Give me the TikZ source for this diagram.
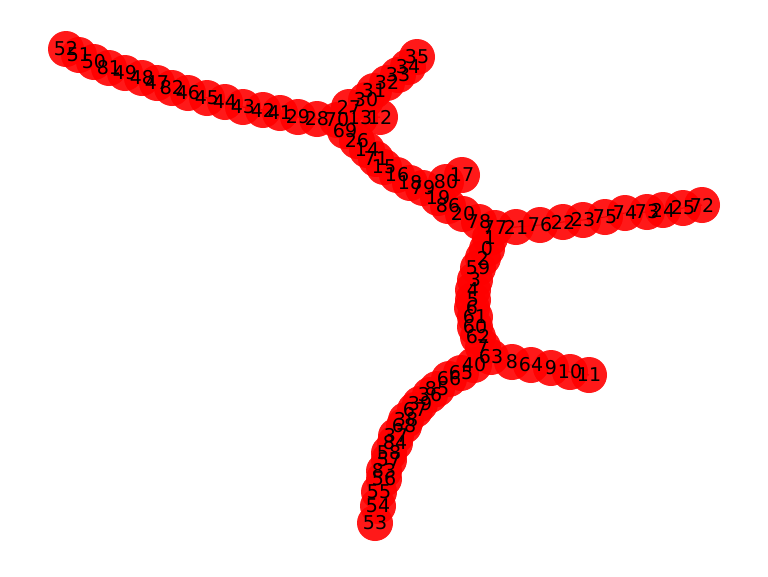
\documentclass[tikz,border=0pt]{standalone}
\usepackage{fontspec}
\setmainfont{DejaVu Sans}
\pgfdeclarelayer{edges}
\pgfdeclarelayer{discs}
\pgfsetlayers{edges,discs,main}

\begin{document}
\begin{tikzpicture}[x=1pt,y=-1pt,
  lbl/.style={inner sep=0pt,font=\fontsize{19}{19}\selectfont},
  disc/.style={fill=red,fill opacity=0.9},
  edge/.style={black,line width=1pt}]
\useasboundingbox (0,0) rectangle (768,576);
% upper left arm
\node[lbl] (n52) at (66,49) {52};
\node[lbl] (n51) at (79,55) {51};
\node[lbl] (n50) at (94,62) {50};
\node[lbl] (n81) at (109,68) {81};
\node[lbl] (n49) at (125,73) {49};
\node[lbl] (n48) at (142,78) {48};
\node[lbl] (n47) at (157,83) {47};
\node[lbl] (n82) at (172,88) {82};
\node[lbl] (n46) at (188,93) {46};
\node[lbl] (n45) at (207,98) {45};
\node[lbl] (n44) at (225,102) {44};
\node[lbl] (n43) at (243,107) {43};
\node[lbl] (n42) at (263,110) {42};
\node[lbl] (n41) at (280,113) {41};
\node[lbl] (n29) at (298,117) {29};
\node[lbl] (n28) at (317,119) {28};
\node[lbl] (n70) at (337,120) {70};
\node[lbl] (n13) at (360,118) {13};
\node[lbl] (n12) at (380,117) {12};
% short arm up
\node[lbl] (n27) at (349,107) {27};
\node[lbl] (n30) at (366,100) {30};
\node[lbl] (n31) at (374,91) {31};
\node[lbl] (n32) at (387,83) {32};
\node[lbl] (n33) at (398,75) {33};
\node[lbl] (n34) at (408,67) {34};
\node[lbl] (n35) at (417,57) {35};
% middle
\node[lbl] (n69) at (345,131) {69};
\node[lbl] (n26) at (357,141) {26};
\node[lbl] (n14) at (367,150) {14};
\node[lbl] (n71) at (376,159) {71};
\node[lbl] (n15) at (384,167) {15};
\node[lbl] (n16) at (397,175) {16};
\node[lbl] (n18) at (410,183) {18};
\node[lbl] (n79) at (423,188) {79};
\node[lbl] (n80) at (446,182) {80};
\node[lbl] (n17) at (462,175) {17};
\node[lbl] (n19) at (438,198) {19};
\node[lbl] (n86) at (448,206) {86};
\node[lbl] (n20) at (463,214) {20};
\node[lbl] (n78) at (479,222) {78};
\node[lbl] (n77) at (495,228) {77};
% right arm
\node[lbl] (n21) at (516,227) {21};
\node[lbl] (n76) at (540,225) {76};
\node[lbl] (n22) at (563,222) {22};
\node[lbl] (n23) at (583,220) {23};
\node[lbl] (n75) at (605,217) {75};
\node[lbl] (n74) at (625,213) {74};
\node[lbl] (n73) at (647,212) {73};
\node[lbl] (n24) at (663,210) {24};
\node[lbl] (n25) at (683,208) {25};
\node[lbl] (n72) at (702,205) {72};
% vertical arm
\node[lbl] (n1) at (490,238) {1};
\node[lbl] (n0) at (487,249) {0};
\node[lbl] (n2) at (483,258) {2};
\node[lbl] (n59) at (478,268) {59};
\node[lbl] (n3) at (475,280) {3};
\node[lbl] (n4) at (473,290) {4};
\node[lbl] (n5) at (473,300) {5};
\node[lbl] (n6) at (472,308) {6};
\node[lbl] (n61) at (475,317) {61};
\node[lbl] (n60) at (475,327) {60};
\node[lbl] (n62) at (478,337) {62};
\node[lbl] (n7) at (483,347) {7};
\node[lbl] (n63) at (491,357) {63};
% short arm right
\node[lbl] (n8) at (512,362) {8};
\node[lbl] (n64) at (531,365) {64};
\node[lbl] (n9) at (551,368) {9};
\node[lbl] (n10) at (570,372) {10};
\node[lbl] (n11) at (589,375) {11};
% lower arm
\node[lbl] (n40) at (474,365) {40};
\node[lbl] (n65) at (461,373) {65};
\node[lbl] (n66) at (449,379) {66};
\node[lbl] (n85) at (437,389) {85};
\node[lbl] (n36) at (430,395) {36};
\node[lbl] (n39) at (420,404) {39};
\node[lbl] (n67) at (415,410) {67};
\node[lbl] (n38) at (406,420) {38};
\node[lbl] (n68) at (404,426) {68};
\node[lbl] (n37) at (396,436) {37};
\node[lbl] (n84) at (395,443) {84};
\node[lbl] (n58) at (389,453) {58};
\node[lbl] (n57) at (389,460) {57};
\node[lbl] (n83) at (384,471) {83};
\node[lbl] (n56) at (384,479) {56};
\node[lbl] (n55) at (379,492) {55};
\node[lbl] (n54) at (378,506) {54};
\node[lbl] (n53) at (375,523) {53};

\begin{pgfonlayer}{discs}
\foreach \i in {0,...,86}
  \fill[disc] (n\i.center) circle (18pt);
\end{pgfonlayer}

\begin{pgfonlayer}{edges}
\foreach \a/\b in {52/51,51/50,50/81,81/49,49/48,48/47,47/82,82/46,46/45,45/44,
  44/43,43/42,42/41,41/29,29/28,28/70,70/13,13/12,
  70/27,27/30,30/31,31/32,32/33,33/34,34/35,
  70/69,69/26,26/14,14/71,71/15,15/16,16/18,18/79,79/80,80/17,
  79/19,19/86,86/20,20/78,78/77,
  77/21,21/76,76/22,22/23,23/75,75/74,74/73,73/24,24/25,25/72,
  77/1,1/0,0/2,2/59,59/3,3/4,4/5,5/6,6/61,61/60,60/62,62/7,7/63,
  63/8,8/64,64/9,9/10,10/11,
  63/40,40/65,65/66,66/85,85/36,36/39,39/67,67/38,38/68,68/37,
  37/84,84/58,58/57,57/83,83/56,56/55,55/54,54/53}
  \draw[edge] (n\a.center) -- (n\b.center);
\end{pgfonlayer}
\end{tikzpicture}
\end{document}
